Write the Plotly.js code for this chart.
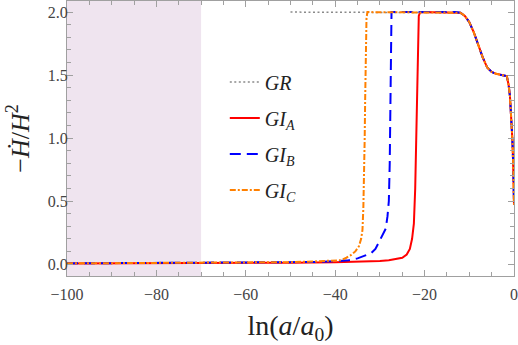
<!DOCTYPE html>
<html>
<head>
<meta charset="utf-8">
<script src="https://cdn.plot.ly/plotly-3.0.1.min.js"></script>
<style>
  html, body { margin: 0; padding: 0; background: #fff; }
  #chart { width: 518px; height: 345px; }
</style>
</head>
<body>
<div id="chart"></div>
<script>
// Values
const tailX = [-13, -12, -11, -10, -9, -8, -7, -6, -5, -4, -3, -2, -1.6, -1.2, -0.9, -0.6, -0.35, -0.15, 0];
const tailY = [2.0, 1.995, 1.97, 1.92, 1.84, 1.74, 1.64, 1.56, 1.525, 1.51, 1.505, 1.495, 1.49, 1.42, 1.33, 1.18, 0.98, 0.75, 0.47];

const grX = [-50];
const grY = [2.0];

const giAX = [-100, -80, -60, -50, -40, -35, -30, -28, -26, -25, -24, -23.3, -22.8, -22.4, -22.1, -21.9, -21.7, -21.5, -21.3, -21.0];
const giAY = [0.005, 0.006, 0.008, 0.01, 0.014, 0.018, 0.025, 0.03, 0.04, 0.05, 0.075, 0.12, 0.2, 0.32, 0.6, 1.0, 1.5, 1.85, 1.97, 2.0];

const giBX = [-100, -60, -50, -45, -40, -37, -35, -33, -32, -31, -30.2, -29.5, -28.7, -28.3, -28.0, -27.8, -27.7, -27.6, -27.5, -27.4];
const giBY = [0.005, 0.009, 0.012, 0.016, 0.022, 0.03, 0.045, 0.07, 0.085, 0.12, 0.18, 0.22, 0.28, 0.38, 0.5, 0.8, 1.1, 1.6, 1.92, 2.0];

const giCX = [-100, -60, -50, -45, -40, -38.8, -37.5, -36.5, -35.5, -34.7, -34.2, -33.9, -33.7, -33.6, -33.4, -33.3, -33.1, -33.0, -32.8];
const giCY = [0.005, 0.01, 0.015, 0.02, 0.027, 0.03, 0.05, 0.07, 0.1, 0.14, 0.2, 0.27, 0.45, 0.6, 1.0, 1.3, 1.7, 1.95, 2.0];

const shadeRange = [-100, -70];

const seriesNames = [
  "<i>GR</i><sub> </sub>",
  "<i>GI</i><sub><i>A</i></sub>",
  "<i>GI</i><sub><i>B</i></sub>",
  "<i>GI</i><sub><i>C</i></sub>",
];

const serif = "Liberation Serif, DejaVu Serif, serif";

function withTail(xs, ys) {
  return { x: xs.concat(tailX), y: ys.concat(tailY) };
}

function makeTrace(xs, ys, name, color, dash, width, group) {
  const d = withTail(xs, ys);
  return {
    x: d.x,
    y: d.y,
    name: name,
    type: "scatter",
    mode: "lines",
    legendgroup: group,
    line: { color: color, dash: dash, width: width },
  };
}

const traces = [
  makeTrace(grX, grY, seriesNames[0], "#8a8a8a", "2px,2.5px", 1.5, "g0"),
  makeTrace(giAX, giAY, seriesNames[1], "#ff0000", "solid", 2, "g1"),
  makeTrace(giBX, giBY, seriesNames[2], "#0000ff", "11px,6px", 2, "g2"),
  makeTrace(giCX, giCY, seriesNames[3], "#ff8000", "6px,2px,2px,2px", 2, "g3"),
];

const axisCommon = {
  showgrid: false,
  zeroline: false,
  showline: true,
  linecolor: "#a0a0a0",
  linewidth: 1,
  mirror: "allticks",
  ticks: "inside",
  ticklen: 6,
  tickcolor: "#a0a0a0",
  tickfont: { family: serif, size: 16, color: "#444" },
};

const layout = {
  width: 518,
  height: 345,
  margin: { t: 1, r: 4, l: 67, b: 69 },
  paper_bgcolor: "#fff",
  plot_bgcolor: "#fff",
  showlegend: true,
  legend: {
    x: 0.353,
    y: 0.776,
    xanchor: "left",
    yanchor: "top",
    bgcolor: "rgba(0,0,0,0)",
    font: { family: serif, size: 20, color: "#222" },
    tracegroupgap: 7,
  },
  xaxis: Object.assign({}, axisCommon, {
    range: [-100, 0],
    dtick: 20,
    tick0: 0,
    ticklabelstandoff: 4,
    minor: { dtick: 5, ticklen: 4, tickcolor: "#a0a0a0", ticks: "inside" },
    title: {
      text: "ln(<i>a</i>/<i>a</i><sub>0</sub>)",
      font: { family: serif, size: 28, color: "#222" },
      standoff: 17,
    },
  }),
  yaxis: Object.assign({}, axisCommon, {
    range: [-0.095, 2.088],
    dtick: 0.5,
    tick0: 0,
    tickformat: ".1f",
    ticklabelstandoff: -5,
    minor: { dtick: 0.1, ticklen: 4, tickcolor: "#a0a0a0", ticks: "inside" },
    title: {
      text: "\u2212<i>\u1E22</i>/<i>H</i><sup>2</sup>",
      font: { family: serif, size: 26, color: "#222" },
      standoff: 10,
    },
  }),
  shapes: [
    {
      type: "rect",
      xref: "x",
      yref: "paper",
      x0: shadeRange[0],
      x1: shadeRange[1],
      y0: 0,
      y1: 1,
      fillcolor: "rgb(239,228,239)",
      line: { width: 0 },
      layer: "below",
    },
  ],
};

Plotly.newPlot("chart", traces, layout, { staticPlot: true, displayModeBar: false });
</script>
</body>
</html>
